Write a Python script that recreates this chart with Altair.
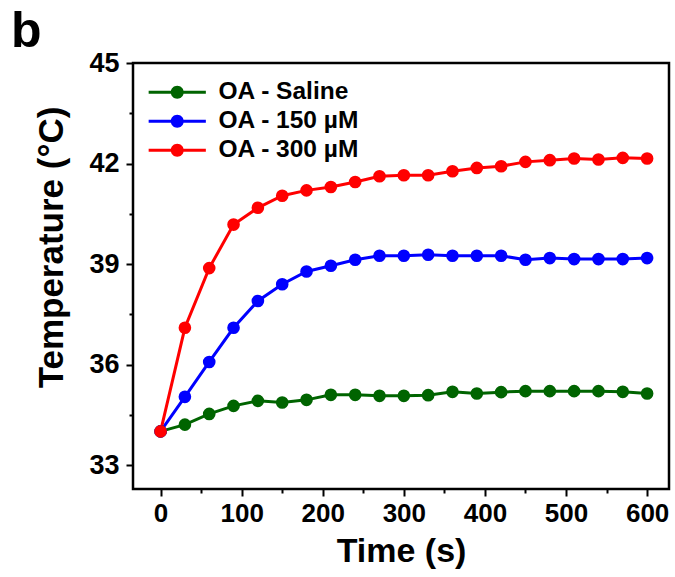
import altair as alt
import pandas as pd

time_s = [0, 30, 60, 90, 120, 150, 180, 210, 240, 270, 300, 330, 360, 390, 420, 450, 480, 510, 540, 570, 600]
saline = [34.01, 34.21, 34.53, 34.77, 34.92, 34.87, 34.95, 35.10, 35.10, 35.07, 35.07, 35.09, 35.19, 35.14, 35.18, 35.21, 35.21, 35.21, 35.21, 35.19, 35.14]
oa150 = [34.01, 35.04, 36.08, 37.10, 37.90, 38.40, 38.78, 38.95, 39.13, 39.25, 39.25, 39.28, 39.25, 39.25, 39.25, 39.13, 39.18, 39.15, 39.15, 39.15, 39.18]
oa300 = [34.01, 37.10, 38.88, 40.18, 40.68, 41.04, 41.20, 41.30, 41.45, 41.62, 41.65, 41.65, 41.77, 41.87, 41.92, 42.05, 42.10, 42.15, 42.12, 42.17, 42.15]

series_names = ["OA - Saline", "OA - 150 µM", "OA - 300 µM"]
series_colors = ["#006400", "#0000ff", "#ff0000"]
x_ticks = [0, 50, 100, 150, 200, 250, 300, 350, 400, 450, 500, 550, 600]
y_ticks = [33, 34.5, 36, 37.5, 39, 40.5, 42, 43.5, 45]

rows = []
for name, vals in zip(series_names, [saline, oa150, oa300]):
    for t, v in zip(time_s, vals):
        rows.append({"time": t, "temp": v, "series": name})
df = pd.DataFrame(rows)

FONT = "Liberation Sans"

x_enc = alt.X(
    "time:Q",
    scale=alt.Scale(domain=[-34, 627], nice=False, zero=False),
    axis=alt.Axis(
        title="Time (s)",
        values=x_ticks,
        labelExpr="datum.value % 100 === 0 ? datum.label : ''",
        tickSize={"condition": {"test": "datum.value % 100 === 0", "value": 7}, "value": 4},
        grid=False,
        domain=False,
        labelFontSize=26,
        labelFontWeight="bold",
        labelPadding=4,
        titleFontSize=34,
        titlePadding=8,
    ),
)
y_enc = alt.Y(
    "temp:Q",
    scale=alt.Scale(domain=[32.29, 45], nice=False, zero=False),
    axis=alt.Axis(
        title="Temperature (°C)",
        values=y_ticks,
        labelExpr="datum.value % 3 === 0 ? datum.label : ''",
        tickSize={"condition": {"test": "datum.value % 3 === 0", "value": 7}, "value": 4},
        grid=False,
        domain=False,
        labelFontSize=27,
        labelFontWeight="bold",
        labelPadding=7,
        titleFontSize=35,
        titleX=-71,
        titleY=184,
        titleBaseline="alphabetic",
    ),
)

color_scale = alt.Scale(domain=series_names, range=series_colors)

legend_path = "M-4.4,-0.23L4.4,-0.23L4.4,0.23L-4.4,0.23Z M1,0A1,1 0 1,1 -1,0A1,1 0 1,1 1,0Z"

legend = alt.Legend(
    title=None,
    orient="none",
    legendX=32,
    legendY=17,
    symbolType=legend_path,
    symbolSize=169,
    symbolStrokeWidth=0,
    symbolOpacity=1,
    labelFontSize=24.5,
    labelFont=FONT,
    labelFontWeight="bold",
    labelColor="black",
    labelOffset=29,
    rowPadding=4,
    padding=0,
)

points = alt.Chart(df).mark_point(filled=True, size=160, opacity=1, shape="circle").encode(
    x=x_enc,
    y=y_enc,
    color=alt.Color("series:N", scale=color_scale, legend=legend),
)

lines = alt.Chart(df).mark_line(strokeWidth=3).encode(
    x=x_enc,
    y=y_enc,
    color=alt.Color("series:N", scale=color_scale, legend=legend),
)

chart = alt.layer(lines, points).properties(
    width=536,
    height=426,
    padding={"left": 133, "top": 63, "right": 6, "bottom": 88},
    autosize="none",
    background="white",
    title=alt.TitleParams(
        "b", anchor="start", frame="group", fontSize=50, fontWeight="bold",
        font=FONT, dx=-122, dy=22, offset=14, color="black",
    ),
).configure_view(
    stroke="black", strokeWidth=2.5
).configure_axis(
    labelFont=FONT, titleFont=FONT, labelFontWeight="bold", titleFontWeight="bold",
    labelColor="black", titleColor="black", tickColor="black", tickWidth=2,
)

chart.save("out.html", embed_options={"renderer": "svg", "actions": False})
